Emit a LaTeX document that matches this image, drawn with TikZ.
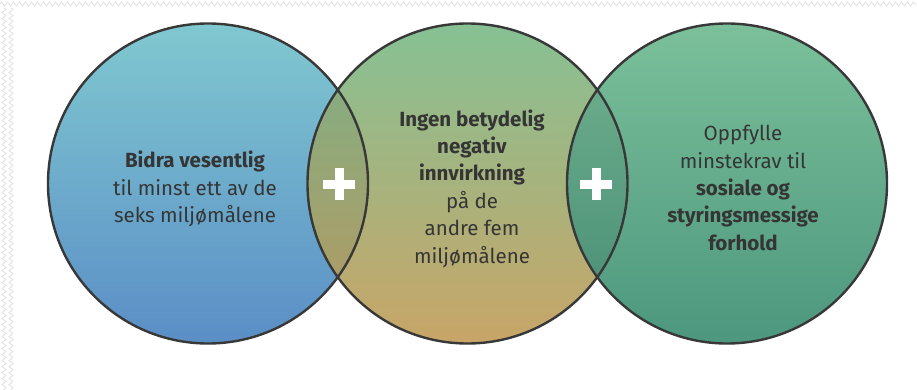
\documentclass[tikz,border=0pt]{standalone}
\usepackage{fontspec}
\setmainfont{Fira Sans}
\usetikzlibrary{decorations.pathmorphing}
\definecolor{ltop}{HTML}{80C8D0}
\definecolor{lbot}{HTML}{5A8EC6}
\definecolor{mtop}{HTML}{86C194}
\definecolor{mbot}{HTML}{C8A567}
\definecolor{rtop}{HTML}{7BC09A}
\definecolor{rbot}{HTML}{4C977E}
\definecolor{ink}{HTML}{353535}
\definecolor{rim}{HTML}{383838}
\definecolor{zig}{HTML}{E2E2E2}
\tikzset{
  disc/.style={circle, minimum size=320pt, inner sep=0pt},
  rimline/.style={draw=rim, line width=2.4pt},
  lbl/.style={align=center, text=ink, font=\fontsize{20.5}{27.4}\selectfont},
  zigline/.style={draw=zig, line width=0.8pt, decorate,
    decoration={zigzag, segment length=6pt, amplitude=2pt}}
}
\begin{document}
\begin{tikzpicture}[x=1pt,y=-1pt]
\useasboundingbox (0,0) rectangle (917,390);
\fill[white] (0,0) rectangle (917,390);
% background texture
\draw[zigline] (0,4) -- (917,4);
\draw[zigline] (4,8) -- (4,390);
\draw[zigline] (11,8) -- (11,390);
% discs
\node[disc, top color=ltop, bottom color=lbot] (L) at (208,183.5) {};
\node[disc, top color=mtop, bottom color=mbot] (M) at (467.5,183.5) {};
\node[disc, top color=rtop, bottom color=rbot] (R) at (727,183.5) {};
% darker overlaps
\begin{scope}
  \clip (L.center) circle[radius=160pt];
  \fill[black, opacity=0.08] (M.center) circle[radius=160pt];
\end{scope}
\begin{scope}
  \clip (M.center) circle[radius=160pt];
  \fill[black, opacity=0.07] (R.center) circle[radius=160pt];
\end{scope}
% outlines
\draw[rimline] (L.center) circle[radius=160pt];
\draw[rimline] (M.center) circle[radius=160pt];
\draw[rimline] (R.center) circle[radius=160pt];
% plus signs
\coordinate (P1) at (339,184);
\coordinate (P2) at (596,184);
\foreach \p in {P1,P2}{
  \fill[white] ([xshift=-16pt,yshift=-4.5pt]\p) rectangle ([xshift=16pt,yshift=4.5pt]\p);
  \fill[white] ([xshift=-4.5pt,yshift=-16pt]\p) rectangle ([xshift=4.5pt,yshift=16pt]\p);
}
% texts
\node[lbl] (tL) at (195,189) {\textbf{Bidra vesentlig}\\til minst ett av de\\seks miljømålene};
\node[lbl] (tM) at (472,188.5) {\textbf{Ingen betydelig}\\\textbf{negativ}\\\textbf{innvirkning}\\på de\\andre fem\\miljømålene};
\node[lbl] (tR) at (743,188) {Oppfylle\\minstekrav til\\\textbf{sosiale og}\\\textbf{styringsmessige}\\\textbf{forhold}};
\end{tikzpicture}
\end{document}
